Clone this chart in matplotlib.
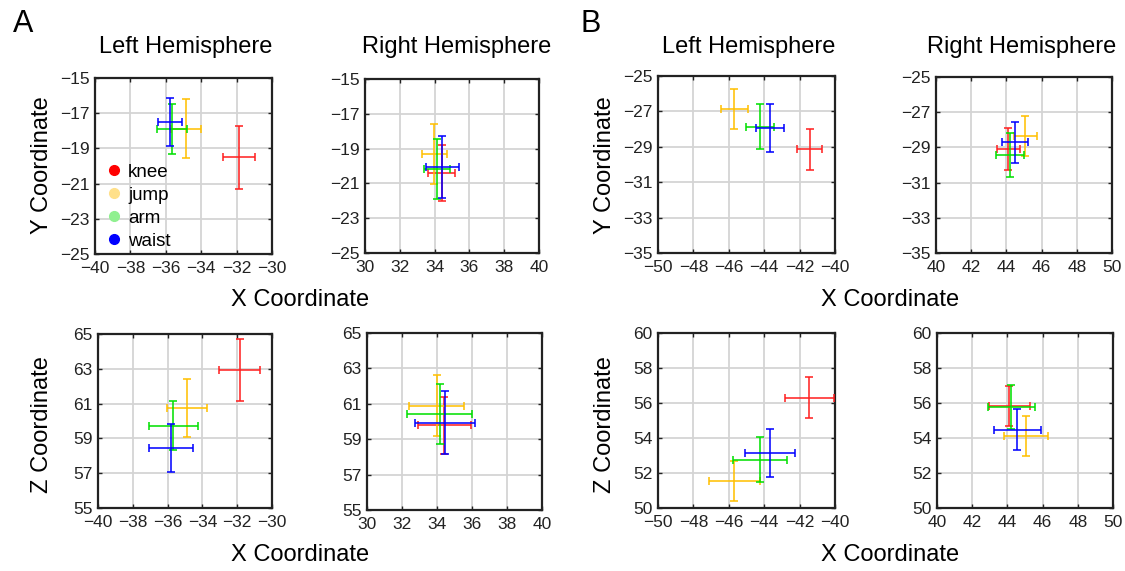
import matplotlib
matplotlib.use("Agg")
import matplotlib.pyplot as plt
from matplotlib.lines import Line2D

plt.rcParams['font.family'] = ['Liberation Sans', 'DejaVu Sans']

W, H = 1125, 571

groups = ["knee", "jump", "arm", "waist"]
line_colors = ["#FF2020", "#FFC000", "#00E000", "#0000FF"]
legend_colors = ["#FF0000", "#FFE08A", "#90F090", "#0000FF"]

# ---- Data: centers and half-widths of error bars (order: knee, jump, arm, waist)
# Panel A (Left hemisphere), X-Y
A_L_x = [-31.85, -34.85, -35.64, -35.77]
A_L_xerr = [0.90, 0.85, 0.85, 0.68]
A_L_y = [-19.5, -17.88, -17.9, -17.5]
A_L_yerr = [1.80, 1.68, 1.42, 1.38]
# Panel A (Right hemisphere), X-Y
A_R_x = [34.4, 33.97, 34.14, 34.44]
A_R_xerr = [0.80, 0.72, 0.74, 0.95]
A_R_y = [-20.4, -19.31, -20.17, -20.06]
A_R_yerr = [1.62, 1.74, 1.70, 1.78]
# Panel A (Left hemisphere), X-Z
A_L_x2 = [-31.85, -34.87, -35.67, -35.81]
A_L_x2err = [1.17, 1.15, 1.40, 1.25]
A_L_z = [62.92, 60.74, 59.74, 58.44]
A_L_zerr = [1.79, 1.68, 1.40, 1.38]
# Panel A (Right hemisphere), X-Z
A_R_x2 = [34.42, 33.98, 34.15, 34.44]
A_R_x2err = [1.50, 1.59, 1.87, 1.72]
A_R_z = [59.79, 60.89, 60.43, 59.94]
A_R_zerr = [1.60, 1.72, 1.70, 1.77]

# Panel B (Left hemisphere), X-Y
B_L_x = [-41.42, -45.68, -44.23, -43.68]
B_L_xerr = [0.70, 0.78, 0.80, 0.79]
B_L_y = [-29.14, -26.88, -27.86, -27.94]
B_L_yerr = [1.15, 1.14, 1.26, 1.35]
# Panel B (Right hemisphere), X-Y
B_R_x = [44.11, 45.08, 44.21, 44.47]
B_R_xerr = [0.66, 0.66, 0.80, 0.73]
B_R_y = [-29.09, -28.35, -29.43, -28.71]
B_R_yerr = [1.18, 1.16, 1.26, 1.16]
# Panel B (Left hemisphere), X-Z
B_L_x2 = [-41.45, -45.68, -44.23, -43.66]
B_L_x2err = [1.37, 1.43, 1.51, 1.42]
B_L_z = [56.3, 51.56, 52.76, 53.12]
B_L_zerr = [1.18, 1.15, 1.29, 1.37]
# Panel B (Right hemisphere), X-Z
B_R_x2 = [44.11, 45.08, 44.21, 44.57]
B_R_x2err = [1.18, 1.25, 1.34, 1.35]
B_R_z = [55.83, 54.13, 55.79, 54.46]
B_R_zerr = [1.17, 1.14, 1.25, 1.17]

xticks_AL = [-40, -38, -36, -34, -32, -30]
xticks_AR = [30, 32, 34, 36, 38, 40]
yticks_AY = [-25, -23, -21, -19, -17, -15]
yticks_AZ = [55, 57, 59, 61, 63, 65]
xticks_BL = [-50, -48, -46, -44, -42, -40]
xticks_BR = [40, 42, 44, 46, 48, 50]
yticks_BY = [-35, -33, -31, -29, -27, -25]
yticks_BZ = [50, 52, 54, 56, 58, 60]

fig = plt.figure(figsize=(W / 100, H / 100), dpi=100)


def add_ax(l, t, r, b):
    return fig.add_axes([l / W, 1 - b / H, (r - l) / W, (b - t) / H])


def panel(ax, xs, xe, ys, ye, xt, yt):
    for i in range(len(groups)):
        ax.errorbar(xs[i], ys[i], xerr=xe[i], yerr=ye[i], color=line_colors[i],
                    alpha=0.8, lw=1.4, capsize=3, capthick=1.4, fmt='none', zorder=3)
    ax.set_xlim(xt[0], xt[-1])
    ax.set_ylim(yt[0], yt[-1])
    ax.set_xticks(xt)
    ax.set_yticks(yt)
    ax.set_xticklabels([str(v).replace('-', '\u2212') for v in xt])
    ax.set_yticklabels([str(v).replace('-', '\u2212') for v in yt])
    ax.grid(True, color='#d4d4d4', lw=1.3, zorder=0)
    ax.set_axisbelow(True)
    ax.tick_params(direction='in', length=3, width=1, top=True, right=True,
                   labelsize=12.5, colors='#222222', labelcolor='#222222')
    ax.tick_params(axis='x', pad=5)
    ax.tick_params(axis='y', pad=4)
    for s in ax.spines.values():
        s.set_linewidth(1.6)
        s.set_color('#222222')


ax1 = add_ax(95, 78, 272, 254)
panel(ax1, A_L_x, A_L_xerr, A_L_y, A_L_yerr, xticks_AL, yticks_AY)
ax2 = add_ax(365, 79, 539, 253)
panel(ax2, A_R_x, A_R_xerr, A_R_y, A_R_yerr, xticks_AR, yticks_AY)
ax3 = add_ax(98, 334, 272, 508)
panel(ax3, A_L_x2, A_L_x2err, A_L_z, A_L_zerr, xticks_AL, yticks_AZ)
ax4 = add_ax(367, 333, 542, 510)
panel(ax4, A_R_x2, A_R_x2err, A_R_z, A_R_zerr, xticks_AR, yticks_AZ)

ax5 = add_ax(658, 76, 835, 253)
panel(ax5, B_L_x, B_L_xerr, B_L_y, B_L_yerr, xticks_BL, yticks_BY)
ax6 = add_ax(936, 77, 1112, 253)
panel(ax6, B_R_x, B_R_xerr, B_R_y, B_R_yerr, xticks_BR, yticks_BY)
ax7 = add_ax(658, 333, 835, 508)
panel(ax7, B_L_x2, B_L_x2err, B_L_z, B_L_zerr, xticks_BL, yticks_BZ)
ax8 = add_ax(937, 333, 1113, 508)
panel(ax8, B_R_x2, B_R_x2err, B_R_z, B_R_zerr, xticks_BR, yticks_BZ)

# legend
handles = [Line2D([], [], marker='o', ls='none', color=c, markersize=7) for c in legend_colors]
leg = ax1.legend(handles, groups, loc='lower left', frameon=False, fontsize=13.5,
                 handlelength=1.0, handletextpad=0.26, labelspacing=0.31,
                 borderaxespad=0.1, bbox_to_anchor=(0.0, -0.028))


def ftext(x, y, s, **kw):
    fig.text(x / W, 1 - y / H, s, ha='center', va='center', **kw)


ftext(23, 24, "A", fontsize=22)
ftext(591, 24, "B", fontsize=22)
ftext(186, 47, "Left Hemisphere", fontsize=17)
ftext(457, 47, "Right Hemisphere", fontsize=17)
ftext(749, 47, "Left Hemisphere", fontsize=17)
ftext(1022, 47, "Right Hemisphere", fontsize=17)
ftext(42, 165, "Y Coordinate", fontsize=17, rotation=90)
ftext(42, 425, "Z Coordinate", fontsize=17, rotation=90)
ftext(605, 165, "Y Coordinate", fontsize=17, rotation=90)
ftext(605, 425, "Z Coordinate", fontsize=17, rotation=90)
ftext(300, 300, "X Coordinate", fontsize=17)
ftext(300, 555, "X Coordinate", fontsize=17)
ftext(890, 300, "X Coordinate", fontsize=17)
ftext(890, 555, "X Coordinate", fontsize=17)

fig.savefig("out.png", dpi=100, facecolor='white')
